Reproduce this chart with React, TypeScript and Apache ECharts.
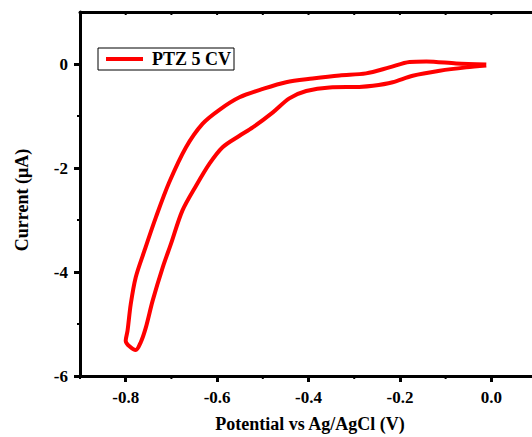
import React, { useEffect, useRef } from "react";
import * as echarts from "echarts";

// Cyclic voltammogram loop (V vs Ag/AgCl, µA)
const potential = [
  -0.011, -0.077, -0.142, -0.179, -0.223, -0.274, -0.332, -0.391, -0.449, -0.5,
  -0.551, -0.595, -0.632, -0.668, -0.705, -0.734, -0.759, -0.778, -0.789, -0.796,
  -0.8, -0.778, -0.767, -0.756, -0.741, -0.719, -0.701, -0.676, -0.646, -0.617,
  -0.588, -0.551, -0.522, -0.478, -0.442, -0.405, -0.354, -0.289, -0.259, -0.216,
  -0.172, -0.113, -0.055, -0.011,
];
const current = [
  -0.01, 0.01, 0.05, 0.04, -0.065, -0.18, -0.22, -0.28, -0.35, -0.48,
  -0.64, -0.88, -1.15, -1.6, -2.28, -2.95, -3.59, -4.1, -4.62, -5.13,
  -5.32, -5.5, -5.35, -5.07, -4.55, -3.91, -3.46, -2.82, -2.34, -1.92,
  -1.6, -1.38, -1.22, -0.93, -0.66, -0.52, -0.45, -0.44, -0.42, -0.35,
  -0.225, -0.13, -0.065, -0.03,
];
const xMajorTicks = [-0.8, -0.6, -0.4, -0.2, 0.0];
const xMinorTicks = [-0.9, -0.7, -0.5, -0.3, -0.1];
const xTopTicks = [-0.8, -0.7, -0.6, -0.5, -0.4, -0.3, -0.2, -0.1, 0.0];
const yMajorTicks = [-6, -4, -2, 0];
const yMinorTicks = [-5, -3, -1];
const seriesName = "PTZ 5 CV";
const xTitle = "Potential vs Ag/AgCl (V)";
const yTitle = "Current (\u03bcA)";

// visible part of the x range (the original figure is cropped on the right)
const X_MIN = -0.9;
const X_MAX = 0.089;
const Y_MIN = -6;
const Y_MAX = 1;

const FONT = "'Liberation Serif', 'Times New Roman', serif";

type TickKind = "bottom" | "top" | "left";

function tickSeries(values: number[], kind: TickKind, len: number) {
  return {
    type: "custom",
    silent: true,
    clip: false,
    xAxisIndex: 0,
    yAxisIndex: 0,
    data: values.map((v) => [v]),
    renderItem: (_params: any, api: any) => {
      const v = api.value(0);
      if (kind === "left") {
        const p = api.coord([X_MIN, v]);
        return {
          type: "line",
          shape: { x1: p[0], y1: p[1], x2: p[0] - len, y2: p[1] },
          style: { stroke: "#000", lineWidth: 2 },
        };
      }
      const p = api.coord([v, kind === "top" ? Y_MAX : Y_MIN]);
      return {
        type: "line",
        shape: { x1: p[0], y1: p[1], x2: p[0], y2: p[1] + len },
        style: { stroke: "#000", lineWidth: 2 },
      };
    },
  };
}

export default function App() {
  const ref = useRef<HTMLDivElement>(null);
  useEffect(() => {
    if (!ref.current) return;
    const chart = echarts.init(ref.current, undefined, { renderer: "svg" });
    chart.setOption({
      animation: false,
      backgroundColor: "#fff",
      grid: {
        left: 80,
        top: 12,
        width: 452,
        height: 364,
        outerBoundsMode: "none",
        containLabel: false,
      },
      legend: {
        left: 98,
        top: 48,
        data: [{ name: seriesName, icon: "rect" }],
        borderColor: "#000",
        borderWidth: 1,
        borderRadius: 0,
        padding: [2, 3, 2, 8],
        itemWidth: 37,
        itemHeight: 4,
        itemGap: 0,
        itemStyle: { color: "#ff0000" },
        textStyle: { fontFamily: FONT, fontWeight: "bold", fontSize: 18, color: "#000", padding: [0, 0, 0, 4] },
      },
      xAxis: [
        {
          type: "value",
          min: X_MIN,
          max: X_MAX,
          position: "bottom",
          splitLine: { show: false },
          axisLine: { onZero: false, lineStyle: { color: "#000", width: 3 } },
          axisTick: { show: true, inside: false, length: 6, customValues: xMajorTicks, lineStyle: { color: "#000", width: 3 } },
          axisLabel: {
            customValues: xMajorTicks,
            margin: 13,
            fontFamily: FONT,
            fontWeight: "bold",
            fontSize: 17,
            color: "#000",
            formatter: (v: number) => v.toFixed(1),
          },
        },
        {
          type: "value",
          min: X_MIN,
          max: X_MAX,
          position: "top",
          splitLine: { show: false },
          axisLine: { onZero: false, lineStyle: { color: "#000", width: 3 } },
          axisTick: { show: false },
          axisLabel: { show: false },
        },
      ],
      yAxis: {
        type: "value",
        min: Y_MIN,
        max: Y_MAX,
        position: "left",
        splitLine: { show: false },
        axisLine: { show: true, onZero: false, lineStyle: { color: "#000", width: 3 } },
        axisTick: { show: true, inside: false, length: 6, customValues: yMajorTicks, lineStyle: { color: "#000", width: 3 } },
        axisLabel: {
          customValues: yMajorTicks,
          margin: 12,
          fontFamily: FONT,
          fontWeight: "bold",
          fontSize: 17,
          color: "#000",
          formatter: (v: number) => String(v),
        },
      },
      graphic: [
        {
          type: "rect",
          z: 100,
          silent: true,
          shape: { x: 520, y: 15, width: 12, height: 358 },
          style: { fill: "#fff", stroke: "none" },
        },
        {
          type: "text",
          x: 22,
          y: 200,
          rotation: Math.PI / 2,
          style: {
            text: yTitle,
            fontFamily: FONT,
            fontWeight: "bold",
            fontSize: 18,
            fill: "#000",
            align: "center",
            verticalAlign: "middle",
          },
        },
        {
          type: "text",
          x: 310,
          y: 424,
          style: {
            text: xTitle,
            fontFamily: FONT,
            fontWeight: "bold",
            fontSize: 18,
            fill: "#000",
            align: "center",
            verticalAlign: "middle",
          },
        },
      ],
      series: [
        {
          name: seriesName,
          type: "line",
          xAxisIndex: 0,
          yAxisIndex: 0,
          data: potential.map((p, i) => [p, current[i]]),
          symbol: "none",
          smooth: 0.3,
          lineStyle: { color: "#ff0000", width: 4 },
          itemStyle: { color: "#ff0000" },
          z: 3,
        },
        tickSeries(xMinorTicks, "bottom", 3),
        tickSeries(xTopTicks, "top", 3),
        tickSeries(yMinorTicks, "left", 3),
      ],
    });
    return () => chart.dispose();
  }, []);
  return <div ref={ref} style={{ position: "absolute", left: 0, top: 0, width: 532, height: 437 }} />;
}
